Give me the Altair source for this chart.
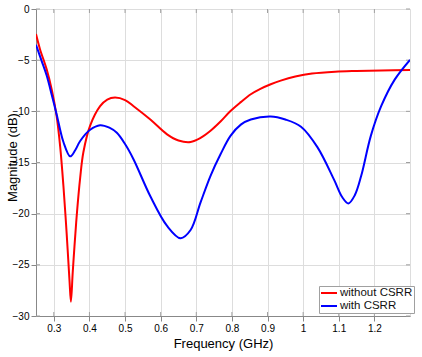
import altair as alt
import pandas as pd

# ---- data ----
freq_without = [0.25, 0.261, 0.28, 0.295, 0.308, 0.318, 0.327, 0.336, 0.344, 0.348, 0.353,
                0.358, 0.365, 0.374, 0.383, 0.402, 0.43, 0.45, 0.472, 0.5, 0.524, 0.571,
                0.618, 0.65, 0.684, 0.712, 0.74, 0.768, 0.796, 0.825, 0.853, 0.88, 0.909,
                0.937, 0.978, 1.025, 1.09, 1.15, 1.22, 1.3]
mag_without = [-2.45, -3.9, -5.9, -8.0, -10.5, -13.5, -17.3, -21.9, -26.5, -28.6, -25.8,
               -23.2, -19.9, -16.5, -14.0, -11.4, -9.5, -8.85, -8.66, -8.9, -9.5, -10.8,
               -12.25, -12.85, -13.0, -12.6, -11.9, -11.0, -9.97, -9.1, -8.33, -7.8, -7.35,
               -7.0, -6.6, -6.3, -6.12, -6.05, -6.0, -5.95]

freq_with = [0.25, 0.265, 0.28, 0.295, 0.308, 0.327, 0.346, 0.36, 0.374, 0.402, 0.43,
             0.456, 0.477, 0.5, 0.524, 0.571, 0.618, 0.656, 0.684, 0.712, 0.74, 0.768,
             0.796, 0.825, 0.853, 0.909, 0.95, 0.994, 1.04, 1.087, 1.11, 1.127, 1.145,
             1.163, 1.19, 1.219, 1.257, 1.3]
mag_with = [-3.5, -5.0, -6.5, -8.5, -10.3, -13.0, -14.4, -13.8, -12.9, -11.8, -11.35,
            -11.6, -12.1, -13.2, -14.7, -18.3, -21.2, -22.4, -21.6, -18.9, -16.3, -14.2,
            -12.4, -11.3, -10.8, -10.5, -10.8, -11.5, -13.5, -16.7, -18.4, -19.0, -18.2,
            -16.3, -12.4, -9.5, -6.9, -4.97]

series_names = ["without CSRR", "with CSRR"]
series_colors = ["#ff0000", "#0000ff"]

x_ticks = [0.3, 0.4, 0.5, 0.6, 0.7, 0.8, 0.9, 1.0, 1.1, 1.2]
y_ticks = [0, -5, -10, -15, -20, -25, -30]

W, H = 374, 307
FONT = "Liberation Sans"

df = pd.concat([
    pd.DataFrame({"f": freq_without, "m": mag_without, "s": series_names[0], "o": range(len(freq_without))}),
    pd.DataFrame({"f": freq_with, "m": mag_with, "s": series_names[1], "o": range(len(freq_with))}),
])
xt = pd.DataFrame({"t": x_ticks})
yt = pd.DataFrame({"t": y_ticks})

xscale = alt.Scale(domain=[0.25, 1.3], nice=False, zero=False)
yscale = alt.Scale(domain=[-30, 0], nice=False, zero=False)

lines = alt.Chart(df).mark_line(strokeWidth=2, interpolate="catmull-rom", clip=True).encode(
    x=alt.X("f:Q", scale=xscale,
            axis=alt.Axis(values=x_ticks, title="Frequency (GHz)", format="~g",
                          titleFontWeight="normal", titleFontSize=13, titlePadding=4)),
    y=alt.Y("m:Q", scale=yscale,
            axis=alt.Axis(values=y_ticks, title="Magnitude (dB)", titleFontWeight="normal",
                          titleFontSize=13,
                          titleX=-24, titleY=148, titleBaseline="middle", titleAngle=270)),
    color=alt.Color("s:N", scale=alt.Scale(domain=series_names, range=series_colors),
                    legend=alt.Legend(title=None, orient="none", legendX=283, legendY=277,
                                      symbolType="stroke", symbolStrokeWidth=2,
                                      symbolSize=256, labelFontSize=11.5, labelFont=FONT,
                                      labelColor="#111", rowPadding=1, labelOffset=2,
                                      clipHeight=12,
                                      strokeColor="#a0a0a0", fillColor="white",
                                      padding=1, cornerRadius=0)),
    order="o:Q",
)

tick_len = 4
bottom_ticks = alt.Chart(xt).mark_rule(color="#a0a0a0", strokeWidth=1).encode(
    x=alt.X("t:Q", scale=xscale), y=alt.value(H), y2=alt.value(H - tick_len))
top_ticks = alt.Chart(xt).mark_rule(color="#a0a0a0", strokeWidth=1).encode(
    x=alt.X("t:Q", scale=xscale), y=alt.value(0), y2=alt.value(tick_len))
left_ticks = alt.Chart(yt).mark_rule(color="#a0a0a0", strokeWidth=1).encode(
    y=alt.Y("t:Q", scale=yscale), x=alt.value(0), x2=alt.value(tick_len))
right_ticks = alt.Chart(yt).mark_rule(color="#a0a0a0", strokeWidth=1).encode(
    y=alt.Y("t:Q", scale=yscale), x=alt.value(W), x2=alt.value(W - tick_len))

chart = alt.layer(bottom_ticks, top_ticks, left_ticks, right_ticks, lines).properties(
    width=W, height=H,
    autosize=alt.AutoSizeParams(type="none"),
    padding={"left": 36, "top": 9, "right": 12, "bottom": 41},
).configure_view(
    stroke="#a0a0a0", strokeWidth=1
).configure_axis(
    domain=False, ticks=False, grid=True, gridColor="#ebebeb", gridWidth=1,
    labelFont=FONT, labelFontSize=11, labelColor="#262626",
    titleFont=FONT, titleFontSize=13, titleColor="#262626", titleFontWeight="normal",
).configure_axisX(
    labelPadding=8,
).configure_axisY(
    labelPadding=4,
).configure(background="white")

chart.save("out.html", embed_options={"renderer": "svg", "actions": False})
